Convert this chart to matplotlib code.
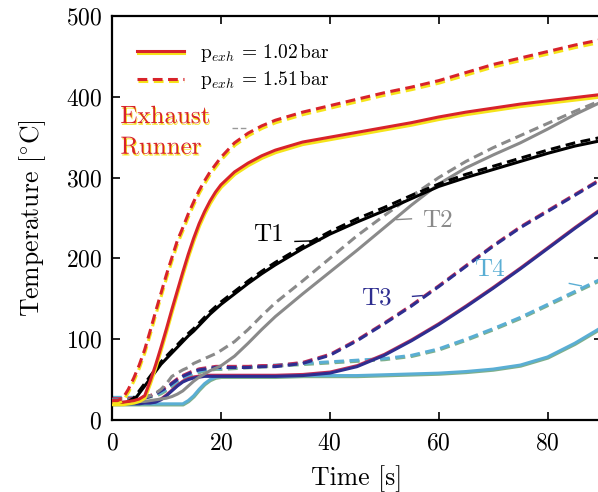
import matplotlib
matplotlib.use("Agg")
import matplotlib.pyplot as plt
import matplotlib.patheffects as pe

# time axis samples [s]
t = [0, 1, 2, 3, 4, 5, 6, 7, 8, 9, 10, 11, 12, 13, 14, 15, 16, 17, 18, 19, 20,
     22.5, 25, 27.5, 30, 35, 40, 45, 50, 55, 60, 65, 70, 75, 80, 85, 90]

# exhaust runner, p_exh = 1.02 bar (lo) and 1.51 bar (hi)
exh_lo = [22, 22, 22, 23, 24, 26, 30, 48, 68, 90, 113, 137, 160, 183, 205, 225, 243, 258, 271, 282, 291,
          307, 318, 327, 334, 344, 350, 356, 362, 368, 375, 381, 386, 391, 395, 399, 403]
exh_hi = [24, 24, 27, 38, 52, 68, 87, 110, 134, 157, 180, 201, 222, 238, 255, 270, 284, 296, 307, 316, 325,
          343, 355, 364, 371, 381, 389, 397, 405, 412, 420, 430, 440, 448, 456, 464, 471]
# T1
t1_lo = [20, 20, 20, 21, 24, 33, 42, 51, 60, 69, 76, 83, 90, 97, 104, 110, 117, 124, 131, 137, 143,
         156, 169, 181, 192, 212, 230, 245, 259, 274, 289, 300, 310, 320, 330, 339, 346]
t1_hi = [20, 20, 21, 23, 27, 36, 45, 54, 63, 72, 79, 86, 93, 100, 107, 113, 120, 127, 134, 140, 146,
         159, 172, 184, 195, 215, 233, 249, 263, 278, 292, 304, 314, 324, 334, 343, 350]
# T2
t2_lo = [22, 22, 22, 22, 22, 23, 23, 24, 25, 26, 27, 29, 32, 36, 42, 48, 53, 57, 61, 64, 67,
         79, 95, 112, 128, 156, 183, 210, 238, 266, 292, 312, 328, 343, 360, 378, 394]
t2_hi = [25, 25, 25, 25, 26, 27, 28, 30, 33, 38, 45, 54, 58, 62, 65, 70, 73, 76, 79, 82, 86,
         97, 112, 129, 145, 172, 200, 228, 253, 277, 300, 320, 337, 352, 367, 382, 396]
# T3
t3_lo = [20, 20, 20, 20, 20, 20, 21, 21, 22, 25, 30, 36, 42, 47, 50, 52, 53, 54, 54, 54, 54,
         54, 54, 54, 54, 55, 58, 66, 80, 98, 118, 140, 163, 187, 212, 237, 261]
t3_hi = [25, 25, 25, 25, 26, 27, 27, 29, 32, 36, 40, 45, 50, 54, 57, 60, 62, 63, 64, 65, 65,
         65, 65, 66, 66, 70, 80, 98, 119, 141, 165, 190, 215, 238, 258, 278, 298]
# T4
t4_lo = [20, 20, 20, 20, 20, 20, 20, 20, 20, 20, 20, 20, 20, 20, 24, 30, 38, 45, 50, 53, 54,
         54, 54, 54, 54, 55, 55, 55, 56, 57, 58, 60, 63, 68, 78, 95, 115]
t4_hi = [28, 28, 28, 28, 28, 29, 29, 30, 31, 34, 38, 43, 48, 52, 55, 58, 60, 62, 63, 64, 64,
         65, 66, 67, 68, 70, 72, 74, 76, 80, 88, 100, 113, 127, 143, 159, 175]

plt.rcParams["font.family"] = "serif"
plt.rcParams["font.serif"] = ["cmr10", "DejaVu Serif"]
plt.rcParams["mathtext.fontset"] = "cm"
plt.rcParams["axes.formatter.use_mathtext"] = True

fig = plt.figure(figsize=(5.98, 4.92), dpi=100)
ax = fig.add_axes([112 / 598, 72 / 492, 490 / 598, 404 / 492])

red, yellow = "#d8232a", "#f5e31a"
navy, cyan = "#2e2e90", "#5aaed4"
grey = "#8a8a8a"
lw = 2.2
dash = (3.2, 1.8)


def shadow(col, dy):
    return [pe.SimpleLineShadow(offset=(0.3, dy), shadow_color=col, alpha=1.0), pe.Normal()]


ax.plot(t, exh_lo, color=red, lw=lw, path_effects=shadow(yellow, -1.8),
        label=r"$\mathrm{p}_{exh}\,=\,1.02\,\mathrm{bar}$", zorder=6)
ax.plot(t, exh_hi, color=red, lw=lw, dashes=dash, path_effects=shadow(yellow, -1.8),
        label=r"$\mathrm{p}_{exh}\,=\,1.51\,\mathrm{bar}$", zorder=6)
ax.plot(t, t1_lo, color="black", lw=lw, zorder=5)
ax.plot(t, t1_hi, color="black", lw=lw, dashes=dash, zorder=5)
ax.plot(t, t2_lo, color=grey, lw=lw, zorder=4)
ax.plot(t, t2_hi, color=grey, lw=lw, dashes=dash, zorder=4)
ax.plot(t, t3_lo, color=navy, lw=lw, path_effects=shadow("#c0305a", 0.8), zorder=3)
ax.plot(t, t3_hi, color=navy, lw=lw, dashes=dash, path_effects=shadow("#c0305a", 0.8), zorder=3)
ax.plot(t, t4_lo, color=cyan, lw=lw, path_effects=shadow("#7fb08a", -0.8), zorder=2)
ax.plot(t, t4_hi, color=cyan, lw=lw, dashes=dash, path_effects=shadow("#7fb08a", -0.8), zorder=2)

# curve labels with short leader lines
fs = 18
glow = [pe.withSimplePatchShadow(offset=(0.6, -1.2), shadow_rgbFace=yellow, alpha=1.0)]
ax.text(9.8, 375, "Exhaust", color=red, fontsize=fs, ha="center", va="center", path_effects=glow)
ax.text(9.0, 337, "Runner", color=red, fontsize=fs, ha="center", va="center", path_effects=glow)
ax.plot([22, 25], [362, 362], color="#999999", lw=1, dashes=(4, 2))
ax.text(28.8, 229, "T1", color="black", fontsize=fs, ha="center", va="center")
ax.plot([33.6, 38.2], [221, 222], color="black", lw=1)
ax.text(59.8, 246, "T2", color=grey, fontsize=fs, ha="center", va="center")
ax.plot([52.3, 55], [248, 249], color=grey, lw=1)
ax.text(48.6, 151, "T3", color=navy, fontsize=fs, ha="center", va="center")
ax.plot([55.2, 57], [153, 154], color=navy, lw=1)
ax.text(69.4, 186, "T4", color=cyan, fontsize=fs, ha="center", va="center")
ax.plot([84, 86.2], [169, 166], color=cyan, lw=1)

ax.set_xlim(0, 90)
ax.set_ylim(0, 500)
ax.set_xticks([0, 20, 40, 60, 80])
ax.set_yticks([0, 100, 200, 300, 400, 500])
ax.tick_params(direction="in", length=6, width=1.2, top=True, right=True, labelsize=17, pad=7)
ax.tick_params(axis="x", pad=9)
for s in ax.spines.values():
    s.set_linewidth(1.6)
ax.set_xlabel("Time [s]", fontsize=18.5, labelpad=8)
ax.set_ylabel(r"Temperature [$^{\circ}$C]", fontsize=18.5, labelpad=13)

ax.legend(loc="upper left", frameon=False, fontsize=14, handlelength=2.4,
          borderaxespad=0.6, labelspacing=0.3, bbox_to_anchor=(0.012, 0.985))

fig.savefig("out.png", dpi=100)
